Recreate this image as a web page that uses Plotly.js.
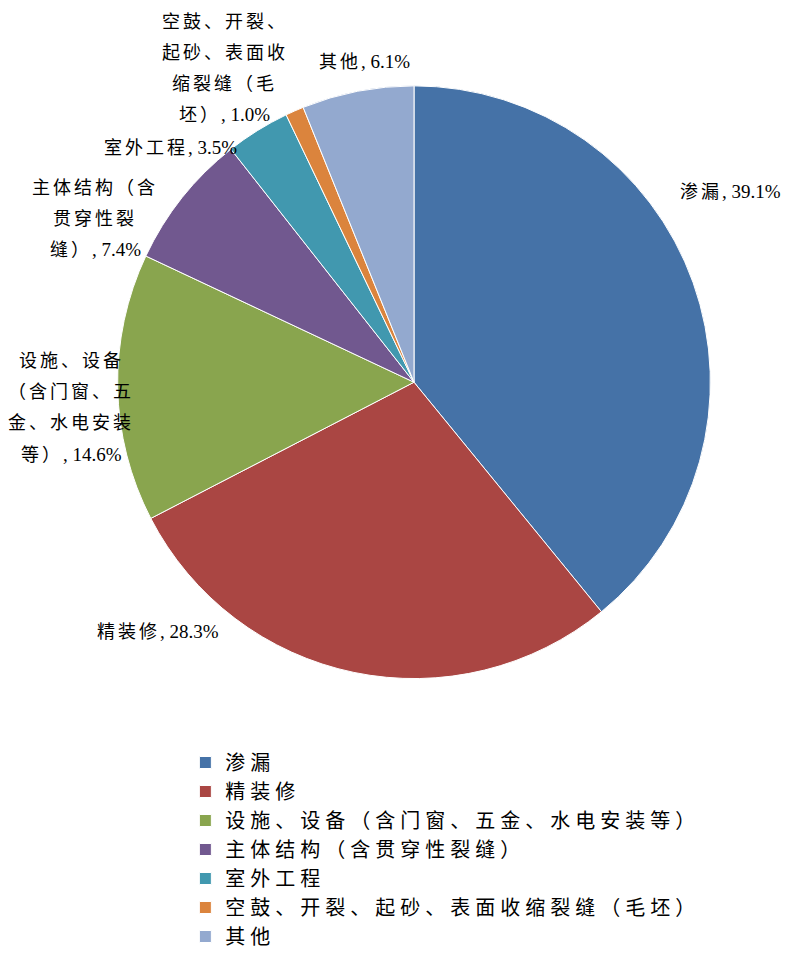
<!DOCTYPE html>
<html>
<head>
<meta charset="utf-8">
<script src="https://cdn.plot.ly/plotly-3.0.1.min.js"></script>
<style>
html,body{margin:0;padding:0;background:#fff;}
#chart{width:799px;height:956px;}
.legendtext{letter-spacing:5px;}
</style>
</head>
<body>
<div id="chart"></div>
<script>
const categories = [
  "渗漏",
  "精装修",
  "设施、设备（含门窗、五金、水电安装等）",
  "主体结构（含贯穿性裂缝）",
  "室外工程",
  "空鼓、开裂、起砂、表面收缩裂缝（毛坯）",
  "其他"
];
const labelLines = [
  ["渗漏"],
  ["精装修"],
  ["设施、设备", "（含门窗、五", "金、水电安装", "等）"],
  ["主体结构（含", "贯穿性裂", "缝）"],
  ["室外工程"],
  ["空鼓、开裂、", "起砂、表面收", "缩裂缝（毛", "坯）"],
  ["其他"]
];
const shares = [39.1, 28.3, 14.6, 7.4, 3.5, 1.0, 6.1];
const colors = ["#4572A7", "#AA4643", "#89A54E", "#71588F", "#4198AF", "#DB843D", "#93A9CF"];

// label block placement (pixels: center x, first-line center y) - layout only
const labelPos = [
  [730, 192], [158, 633], [71, 362], [95, 188], [170, 148], [225, 22], [364, 62]
];
const lineGap = 31;
const W = 799, H = 956;

const fontFam = 'Liberation Serif, Noto Sans CJK SC, serif';

const annotations = [];
labelLines.forEach((lines, i) => {
  lines.forEach((ln, j) => {
    let t = '<span style="letter-spacing:3px">' + ln + '</span>';
    if (j === lines.length - 1) {
      t += '<span style="font-family:Liberation Serif;font-size:19px">, ' + shares[i].toFixed(1) + '%</span>';
    }
    annotations.push({
      xref: "paper", yref: "paper",
      x: labelPos[i][0] / W, y: 1 - (labelPos[i][1] + j * lineGap) / H,
      xanchor: "center", yanchor: "middle",
      text: t, showarrow: false,
      font: {family: fontFam, size: 18, color: "#000"}
    });
  });
});

const trace = {
  type: "pie",
  labels: categories,
  values: shares,
  textinfo: "none",
  sort: false,
  direction: "clockwise",
  rotation: 0,
  marker: {colors: colors, line: {color: "#ffffff", width: 1}},
  hoverinfo: "none",
  domain: {x: [0.1464, 0.8899], y: [0.2887, 0.910]}
};

const layout = {
  width: W,
  height: H,
  margin: {l: 0, r: 0, t: 0, b: 0},
  paper_bgcolor: "#fff",
  showlegend: true,
  annotations: annotations,
  legend: {
    x: 0.232, y: 0.221, xanchor: "left", yanchor: "top",
    font: {family: fontFam, size: 20, color: "#000"},
    bgcolor: "rgba(0,0,0,0)"
  }
};

Plotly.newPlot("chart", [trace], layout, {displayModeBar: false, staticPlot: true});
</script>
</body>
</html>
